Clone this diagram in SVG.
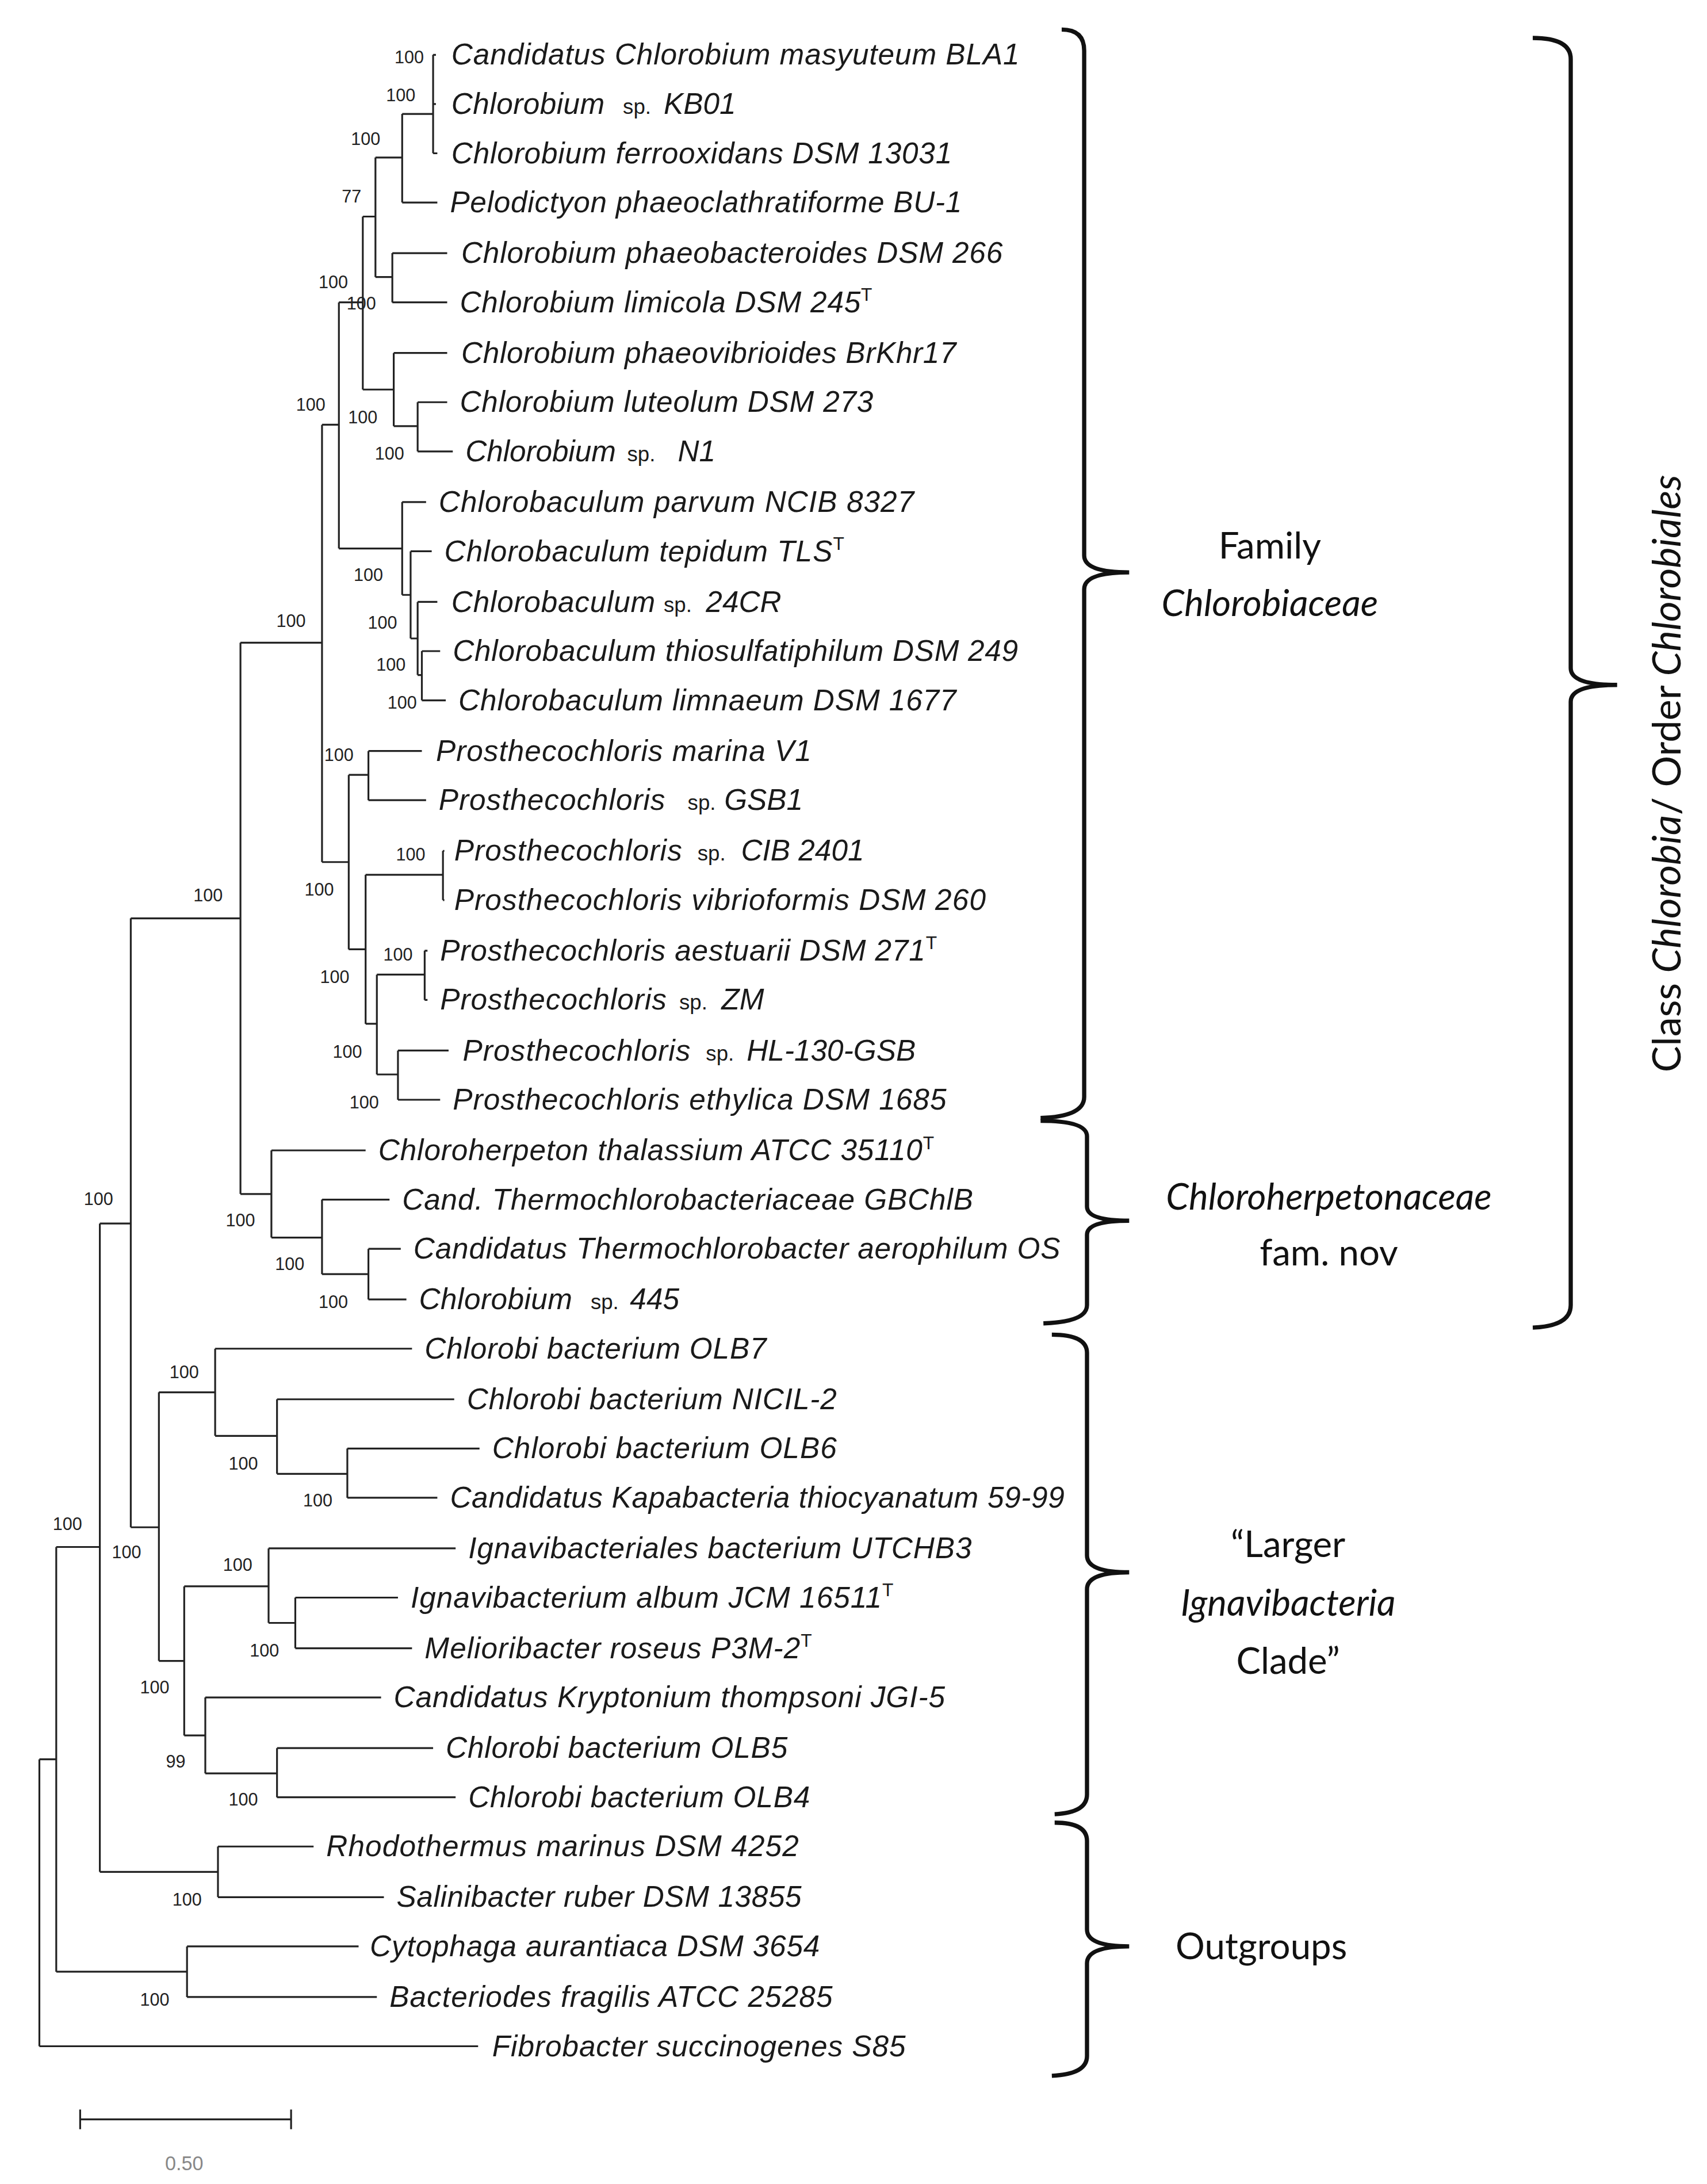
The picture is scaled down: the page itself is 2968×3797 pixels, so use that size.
<svg xmlns="http://www.w3.org/2000/svg" width="2968" height="3797" viewBox="0 0 2968 3797">
<style>
.t{font-family:"Liberation Sans",Arial,sans-serif;font-style:italic;font-size:21px;fill:#1a1a1a}
.sp{font-style:normal;font-size:15px}
.b{font-family:"Liberation Sans",Arial,sans-serif;font-size:12.5px;fill:#222;text-anchor:middle}
.br{fill:none;stroke:#111;stroke-width:3}
.lab{font-family:Lato,"Open Sans",sans-serif;font-size:26px;fill:#111;text-anchor:middle}
.i{font-style:italic}
</style>
<rect width="2968" height="3797" fill="#fff"/>
<g transform="scale(2.445)">
<g id="connectors" fill="none" stroke="#222" stroke-width="1.3">
<path d="M308,39H310 M308,74H310 M308,109H311 M286,144H311 M279,180H318 M279,215H318 M280,251H318 M297,286H318 M297,321H322 M286,357H303 M292,392H307 M297,428H311 M300,463H313 M300,498H317 M262,534H300 M262,569H303 M315,605H316 M315,640H316 M302,676H304 M302,711H304 M283,747H319 M283,782H313 M193,818H260 M229,853H277 M262,888H285 M262,924H289 M153,959H293 M197,995H323 M247,1030H341 M247,1065H311 M191,1101H324 M210,1136H283 M210,1172H293 M146,1207H271 M197,1243H308 M197,1278H324 M155,1313H223 M155,1349H273 M133,1384H255 M133,1420H268 M28,1455H340"/>
<path d="M308,39V109 M286,81H308 M286,81V144 M267,112H286 M279,180V215 M267,197H279 M267,112V197 M258,154H267 M297,286V321 M280,303H297 M280,251V303 M258,277H280 M258,154V277 M241,215H258 M300,463V498 M297,480H300 M297,428V480 M292,454H297 M292,392V454 M286,423H292 M286,357V423 M241,390H286 M241,215V390 M229,302H241 M262,534V569 M248,551H262 M315,605V640 M260,622H315 M302,676V711 M268,693H302 M283,747V782 M268,764H283 M268,693V764 M260,728H268 M260,622V728 M248,675H260 M248,551V675 M229,613H248 M229,302V613 M171,457H229 M262,888V924 M229,906H262 M229,853V906 M193,880H229 M193,818V880 M171,849H193 M171,457V849 M93,653H171 M247,1030V1065 M197,1048H247 M197,995V1048 M153,1021H197 M153,959V1021 M113,990H153 M210,1136V1172 M191,1154H210 M191,1101V1154 M131,1128H191 M197,1243V1278 M146,1261H197 M146,1207V1261 M131,1234H146 M131,1128V1234 M113,1181H131 M113,990V1181 M93,1086H113 M93,653V1086 M71,870H93 M155,1313V1349 M71,1331H155 M71,870V1331 M40,1100H71 M133,1384V1420 M40,1402H133 M40,1100V1402 M28,1251H40 M28,1251V1455"/>
<path d="M57,1507H207 M57,1500V1514 M207,1500V1514"/>
</g>
<g id="leaves" class="t">
<text x="321" y="46" textLength="404">Candidatus Chlorobium masyuteum BLA1</text>
<text x="321" y="81"><tspan textLength="109">Chlorobium</tspan><tspan class="sp" x="443">sp.</tspan><tspan x="472">KB01</tspan></text>
<text x="321" y="116" textLength="356">Chlorobium ferrooxidans DSM 13031</text>
<text x="320" y="151" textLength="364">Pelodictyon phaeoclathratiforme BU-1</text>
<text x="328" y="187" textLength="385">Chlorobium phaeobacteroides DSM 266</text>
<text x="327" y="222"><tspan textLength="285">Chlorobium limicola DSM 245</tspan><tspan font-style="normal" font-size="13" dy="-8">T</tspan></text>
<text x="328" y="258" textLength="352">Chlorobium phaeovibrioides BrKhr17</text>
<text x="327" y="293" textLength="294">Chlorobium luteolum DSM 273</text>
<text x="331" y="328"><tspan textLength="107">Chlorobium</tspan><tspan class="sp" x="446">sp.</tspan><tspan x="482">N1</tspan></text>
<text x="312" y="364" textLength="338">Chlorobaculum parvum NCIB 8327</text>
<text x="316" y="399"><tspan textLength="276">Chlorobaculum tepidum TLS</tspan><tspan font-style="normal" font-size="13" dy="-8">T</tspan></text>
<text x="321" y="435"><tspan textLength="145">Chlorobaculum</tspan><tspan class="sp" x="472">sp.</tspan><tspan x="502">24CR</tspan></text>
<text x="322" y="470" textLength="402">Chlorobaculum thiosulfatiphilum DSM 249</text>
<text x="326" y="505" textLength="354">Chlorobaculum limnaeum DSM 1677</text>
<text x="310" y="541" textLength="267">Prosthecochloris marina V1</text>
<text x="312" y="576"><tspan textLength="161">Prosthecochloris</tspan><tspan class="sp" x="489">sp.</tspan><tspan x="515">GSB1</tspan></text>
<text x="323" y="612"><tspan textLength="162">Prosthecochloris</tspan><tspan class="sp" x="496">sp.</tspan><tspan x="527">CIB 2401</tspan></text>
<text x="323" y="647" textLength="378">Prosthecochloris vibrioformis DSM 260</text>
<text x="313" y="683"><tspan textLength="345">Prosthecochloris aestuarii DSM 271</tspan><tspan font-style="normal" font-size="13" dy="-8">T</tspan></text>
<text x="313" y="718"><tspan textLength="161">Prosthecochloris</tspan><tspan class="sp" x="483">sp.</tspan><tspan x="513">ZM</tspan></text>
<text x="329" y="754"><tspan textLength="162">Prosthecochloris</tspan><tspan class="sp" x="502">sp.</tspan><tspan x="531">HL-130-GSB</tspan></text>
<text x="322" y="789" textLength="351">Prosthecochloris ethylica DSM 1685</text>
<text x="269" y="825"><tspan textLength="387">Chloroherpeton thalassium ATCC 35110</tspan><tspan font-style="normal" font-size="13" dy="-8">T</tspan></text>
<text x="286" y="860" textLength="406">Cand. Thermochlorobacteriaceae GBChlB</text>
<text x="294" y="895" textLength="460">Candidatus Thermochlorobacter aerophilum OS</text>
<text x="298" y="931"><tspan textLength="109">Chlorobium</tspan><tspan class="sp" x="420">sp.</tspan><tspan x="448">445</tspan></text>
<text x="302" y="966" textLength="243">Chlorobi bacterium OLB7</text>
<text x="332" y="1002" textLength="263">Chlorobi bacterium NICIL-2</text>
<text x="350" y="1037" textLength="245">Chlorobi bacterium OLB6</text>
<text x="320" y="1072" textLength="437">Candidatus Kapabacteria thiocyanatum 59-99</text>
<text x="333" y="1108" textLength="358">Ignavibacteriales bacterium UTCHB3</text>
<text x="292" y="1143"><tspan textLength="335">Ignavibacterium album JCM 16511</tspan><tspan font-style="normal" font-size="13" dy="-8">T</tspan></text>
<text x="302" y="1179"><tspan textLength="267">Melioribacter roseus P3M-2</tspan><tspan font-style="normal" font-size="13" dy="-8">T</tspan></text>
<text x="280" y="1214" textLength="392">Candidatus Kryptonium thompsoni JGI-5</text>
<text x="317" y="1250" textLength="243">Chlorobi bacterium OLB5</text>
<text x="333" y="1285" textLength="243">Chlorobi bacterium OLB4</text>
<text x="232" y="1320" textLength="336">Rhodothermus marinus DSM 4252</text>
<text x="282" y="1356" textLength="288">Salinibacter ruber DSM 13855</text>
<text x="263" y="1391" textLength="320">Cytophaga aurantiaca DSM 3654</text>
<text x="277" y="1427" textLength="315">Bacteriodes fragilis ATCC 25285</text>
<text x="350" y="1462" textLength="294">Fibrobacter succinogenes S85</text>
</g>
<g id="bootstrap" class="b">
<text x="291" y="45">100</text><text x="285" y="72">100</text><text x="260" y="103">100</text><text x="250" y="144">77</text>
<text x="237" y="205">100</text><text x="257" y="220">100</text><text x="221" y="292">100</text><text x="258" y="301">100</text>
<text x="277" y="327">100</text><text x="262" y="413">100</text><text x="272" y="447">100</text><text x="278" y="477">100</text>
<text x="286" y="504">100</text><text x="207" y="446">100</text><text x="241" y="541">100</text><text x="292" y="612">100</text>
<text x="227" y="637">100</text><text x="283" y="683">100</text><text x="238" y="699">100</text><text x="247" y="752">100</text>
<text x="259" y="788">100</text><text x="148" y="641">100</text><text x="171" y="872">100</text><text x="206" y="903">100</text>
<text x="237" y="930">100</text><text x="70" y="857">100</text><text x="131" y="980">100</text><text x="173" y="1045">100</text>
<text x="226" y="1071">100</text><text x="48" y="1088">100</text><text x="90" y="1108">100</text><text x="169" y="1117">100</text>
<text x="188" y="1178">100</text><text x="110" y="1204">100</text><text x="125" y="1257">99</text><text x="173" y="1284">100</text>
<text x="133" y="1355">100</text><text x="110" y="1426">100</text>
<text x="131" y="1543" fill="#888" font-size="14">0.50</text>
</g>
<g id="braces" class="br">
<path d="M755,21 Q771,21 771,36 L771,395 Q771,407 803,407 Q771,407 771,419 L771,780 Q771,794 740,795"/>
<path d="M740,797 Q773,797 773,808 L773,858 Q773,868 803,868 Q773,868 773,878 L773,928 Q773,940 742,941"/>
<path d="M748,949 Q773,949 773,962 L773,1106 Q773,1118 803,1118 Q773,1118 773,1130 L773,1276 Q773,1289 750,1290"/>
<path d="M750,1296 Q773,1296 773,1309 L773,1372 Q773,1384 803,1384 Q773,1384 773,1396 L773,1462 Q773,1475 748,1476"/>
<path d="M1090,27 Q1117,27 1117,42 L1117,475 Q1117,487 1150,487 Q1117,487 1117,499 L1117,928 Q1117,943 1090,944"/>
</g>
<g id="labels" class="lab">
<text x="903" y="397">Family</text>
<text x="903" y="438" class="i">Chlorobiaceae</text>
<text x="945" y="860" class="i">Chloroherpetonaceae</text>
<text x="945" y="900">fam. nov</text>
<text x="916" y="1107">“Larger</text>
<text x="916" y="1149" class="i">Ignavibacteria</text>
<text x="916" y="1190">Clade”</text>
<text x="897" y="1393">Outgroups</text>
<text transform="translate(1195,550) rotate(-90)" font-size="28">Class <tspan class="i">Chlorobia</tspan>/ Order <tspan class="i">Chlorobiales</tspan></text>
</g>
</g>
</svg>
